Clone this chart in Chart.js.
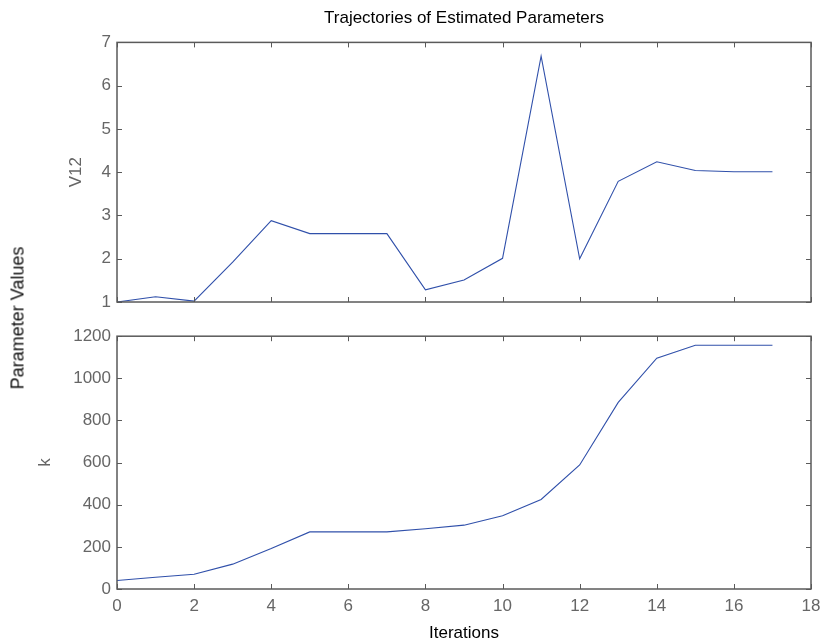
<!DOCTYPE html>
<html>
<head>
<meta charset="utf-8">
<script src="https://cdn.jsdelivr.net/npm/chart.js@4/dist/chart.umd.min.js"></script>
<style>
  html, body { margin: 0; padding: 0; background: #fff; }
  #page { position: relative; width: 823px; height: 644px; overflow: hidden; }
  .box { position: absolute; left: 0; width: 823px; }
  #topBox { top: 0; height: 320px; }
  #botBox { top: 320px; height: 324px; }
  #ylab {
    position: absolute; left: 18px; top: 318px;
    transform: translate(-50%, -50%) rotate(-90deg);
    font: 18px "Liberation Sans", Arial, sans-serif; color: #111;
    white-space: nowrap;
  }
</style>
</head>
<body>
<div id="page">
  <div class="box" id="topBox"><canvas id="top"></canvas></div>
  <div class="box" id="botBox"><canvas id="bot"></canvas></div>
  <div id="ylab">Parameter Values</div>
</div>
<script>
// DATA
const iterations = [0, 1, 2, 3, 4, 5, 6, 7, 8, 9, 10, 11, 12, 13, 14, 15, 16, 17];
const v12 = [1.0, 1.12, 1.02, 1.92, 2.88, 2.58, 2.58, 2.58, 1.28, 1.51, 2.01, 6.68, 2.0, 3.79, 4.24, 4.04, 4.01, 4.01];
const kValues = [40, 56, 70, 118, 192, 271, 271, 271, 286, 303, 348, 425, 589, 886, 1096, 1157, 1157, 1157];

const FONT = '"Liberation Sans", Arial, sans-serif';
const LINE = '#3050aa';
const GREY = '#666';

const toPoints = (ys) => iterations.map((x, i) => ({ x, y: ys[i] }));

// box round the axes and inward tick marks on all four sides
const frame = {
  id: 'frame',
  afterDatasetsDraw(chart) {
    const { ctx, chartArea: a, scales: { x, y } } = chart;
    ctx.save();
    ctx.strokeStyle = '#5a5a5a';
    ctx.lineWidth = 1;
    ctx.beginPath();
    x.ticks.forEach((t) => {
      const px = Math.round(x.getPixelForValue(t.value)) + 0.5;
      ctx.moveTo(px, a.bottom); ctx.lineTo(px, a.bottom - 5);
      ctx.moveTo(px, a.top); ctx.lineTo(px, a.top + 5);
    });
    y.ticks.forEach((t) => {
      const py = Math.round(y.getPixelForValue(t.value)) + 0.5;
      ctx.moveTo(a.left, py); ctx.lineTo(a.left + 5, py);
      ctx.moveTo(a.right, py); ctx.lineTo(a.right - 5, py);
    });
    ctx.stroke();
    ctx.lineWidth = 1.5;
    ctx.strokeRect(a.left, a.top, a.right - a.left, a.bottom - a.top);
    ctx.restore();
  },
};

const tickFont = { family: FONT, size: 17 };
const plain = (v) => String(v);

const yTitle = (text, offset) => ({
  display: true,
  text,
  color: GREY,
  font: { family: FONT, size: 17 },
  padding: { top: offset, bottom: 0 },
});

const lineSet = (data) => ({
  data,
  borderColor: LINE,
  borderWidth: 1.1,
  pointRadius: 0,
  tension: 0,
  fill: false,
});

const noPad = (s) => { s.paddingLeft = 0; s.paddingRight = 0; };

new Chart(document.querySelector('#top'), {
  type: 'line',
  data: { datasets: [lineSet(toPoints(v12))] },
  options: {
    responsive: true,
    maintainAspectRatio: false,
    animation: false,
    layout: { padding: { left: 0, right: 12, top: 0, bottom: 0 } },
    plugins: {
      legend: false,
      tooltip: { enabled: false },
      title: {
        display: true,
        fullSize: false,
        text: 'Trajectories of Estimated Parameters',
        color: '#000',
        font: { family: FONT, size: 17, weight: 'normal' },
        padding: { top: 8, bottom: 14 },
      },
    },
    scales: {
      x: {
        type: 'linear',
        min: 0,
        max: 18,
        ticks: { display: false, stepSize: 2 },
        grid: { display: false, drawTicks: false },
        border: { display: false },
        afterFit: (s) => { s.height = 18; noPad(s); },
      },
      y: {
        min: 1,
        max: 7,
        ticks: { stepSize: 1, color: GREY, font: tickFont, padding: 6, callback: plain },
        grid: { display: false, drawTicks: false },
        border: { display: false },
        title: yTitle('V12', 66),
        afterFit: (s) => { s.width = 117; },
      },
    },
  },
  plugins: [frame],
});

new Chart(document.querySelector('#bot'), {
  type: 'line',
  data: { datasets: [lineSet(toPoints(kValues))] },
  options: {
    responsive: true,
    maintainAspectRatio: false,
    animation: false,
    layout: { padding: { left: 0, right: 12, top: 10, bottom: 0 } },
    plugins: {
      legend: false,
      tooltip: { enabled: false },
    },
    scales: {
      x: {
        type: 'linear',
        min: 0,
        max: 18,
        ticks: { stepSize: 2, color: GREY, font: tickFont, padding: 7, callback: plain },
        grid: { display: false, drawTicks: false },
        border: { display: false },
        title: {
          display: true,
          text: 'Iterations',
          color: '#000',
          font: { family: FONT, size: 17 },
          padding: { top: 0, bottom: 0 },
        },
        afterFit: (s) => { s.height = 55; noPad(s); },
      },
      y: {
        min: 0,
        max: 1200,
        ticks: { stepSize: 200, color: GREY, font: tickFont, padding: 6, callback: plain },
        grid: { display: false, drawTicks: false },
        border: { display: false },
        title: yTitle('k', 35),
        afterFit: (s) => { s.width = 117; },
      },
    },
  },
  plugins: [frame],
});
</script>
</body>
</html>
